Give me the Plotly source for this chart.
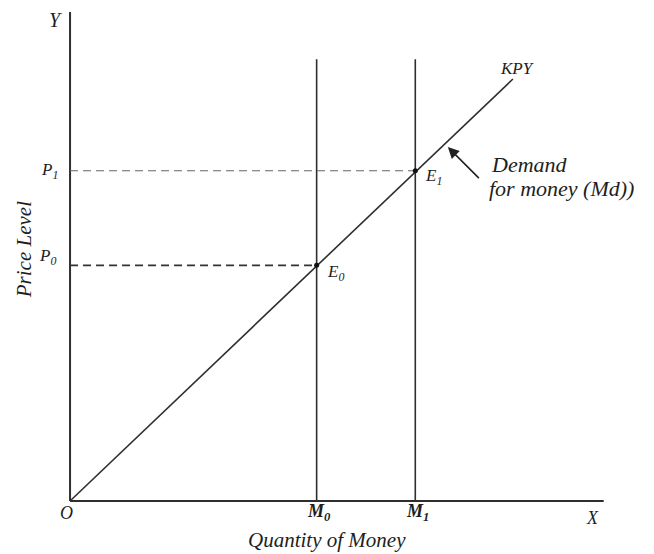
import plotly.graph_objects as go

# ---- data (model units) ----
money_levels = [2.5, 3.5]          # M0, M1
price_levels = [2.39, 3.35]        # P0, P1
kpy_x = [0.0, 4.49]                # demand-for-money line KPY
kpy_y = [0.0, 4.28]
x_axis_max = 5.41
y_axis_max = 4.96
supply_top = 4.48
point_labels = ["E<sub>0</sub>", "E<sub>1</sub>"]
m_labels = ["M<sub>0</sub>", "M<sub>1</sub>"]
p_labels = ["P<sub>0</sub>", "P<sub>1</sub>"]

LINE = "#2e2e2e"
FONT = "Liberation Serif, DejaVu Serif, serif"

fig = go.Figure()

# axes
fig.add_trace(go.Scatter(x=[0, 0], y=[y_axis_max, 0], mode="lines",
                         line=dict(color=LINE, width=2), hoverinfo="skip"))
fig.add_trace(go.Scatter(x=[0, x_axis_max], y=[0, 0], mode="lines",
                         line=dict(color=LINE, width=2), hoverinfo="skip"))

# money supply verticals
for m in money_levels:
    fig.add_trace(go.Scatter(x=[m, m], y=[0, supply_top], mode="lines",
                             line=dict(color=LINE, width=1.6), hoverinfo="skip"))

# KPY line
fig.add_trace(go.Scatter(x=kpy_x, y=kpy_y, mode="lines",
                         line=dict(color=LINE, width=1.6), hoverinfo="skip"))

# dashed price guides
for i, (m, p) in enumerate(zip(money_levels, price_levels)):
    fig.add_trace(go.Scatter(x=[0, m], y=[p, p], mode="lines",
                             line=dict(color="#333" if i == 0 else "#666",
                                       width=1.8 if i == 0 else 1.1,
                                       dash="8px,5px"),
                             hoverinfo="skip"))

# equilibrium points
fig.add_trace(go.Scatter(x=money_levels, y=price_levels, mode="markers",
                         marker=dict(color="#111", size=5), hoverinfo="skip"))

ann = []
def txt(x, y, t, size=17, **kw):
    ann.append(dict(x=x, y=y, xref="x", yref="y", text=t, showarrow=False,
                    font=dict(family=FONT, size=size, color="#1e1e1e"), **kw))

txt(-0.15, 4.88, "<i>Y</i>", size=20)
txt(-0.04, -0.12, "<i>O</i>", size=18)
txt(5.30, -0.17, "<i>X</i>", size=18)
for m, lab in zip(money_levels, m_labels):
    txt(m + 0.02, -0.12, "<i><b>" + lab + "</b></i>", size=18)
txt(-0.23, price_levels[0] + 0.08, "<i>" + p_labels[0] + "</i>")
txt(-0.21, price_levels[1] + 0.0, "<i>" + p_labels[1] + "</i>")
txt(money_levels[0] + 0.19, price_levels[0] - 0.08, "<i>" + point_labels[0] + "</i>")
txt(money_levels[1] + 0.18, price_levels[1] - 0.06, "<i>" + point_labels[1] + "</i>")
txt(4.53, 4.39, "<i>KPY</i>", size=17)
txt(4.25, 3.41, "<i>Demand</i>", size=22, xanchor="left")
txt(4.23, 3.17, "<i>for money (Md))</i>", size=22, xanchor="left")
txt(2.61, -0.395, "<i>Quantity of Money</i>", size=21)
txt(-0.47, 2.55, "<i>Price Level</i>", size=21, textangle=-90)

# arrow pointing at demand curve
ann.append(dict(x=3.83, y=3.59, ax=4.16, ay=3.26, xref="x", yref="y",
                axref="x", ayref="y", text="", showarrow=True,
                arrowhead=2, arrowsize=1.4, arrowwidth=1.6, arrowcolor="#222"))

fig.update_layout(
    width=654, height=554,
    margin=dict(l=0, r=0, t=0, b=0),
    paper_bgcolor="white", plot_bgcolor="white",
    showlegend=False,
    annotations=ann,
    xaxis=dict(range=[-0.71, 5.92], visible=False, fixedrange=True),
    yaxis=dict(range=[-0.5375, 5.081], visible=False, fixedrange=True),
)

fig.write_html("out.html", config={"displayModeBar": False},
               post_script="document.body.style.margin='0';document.body.style.overflow='hidden';")
